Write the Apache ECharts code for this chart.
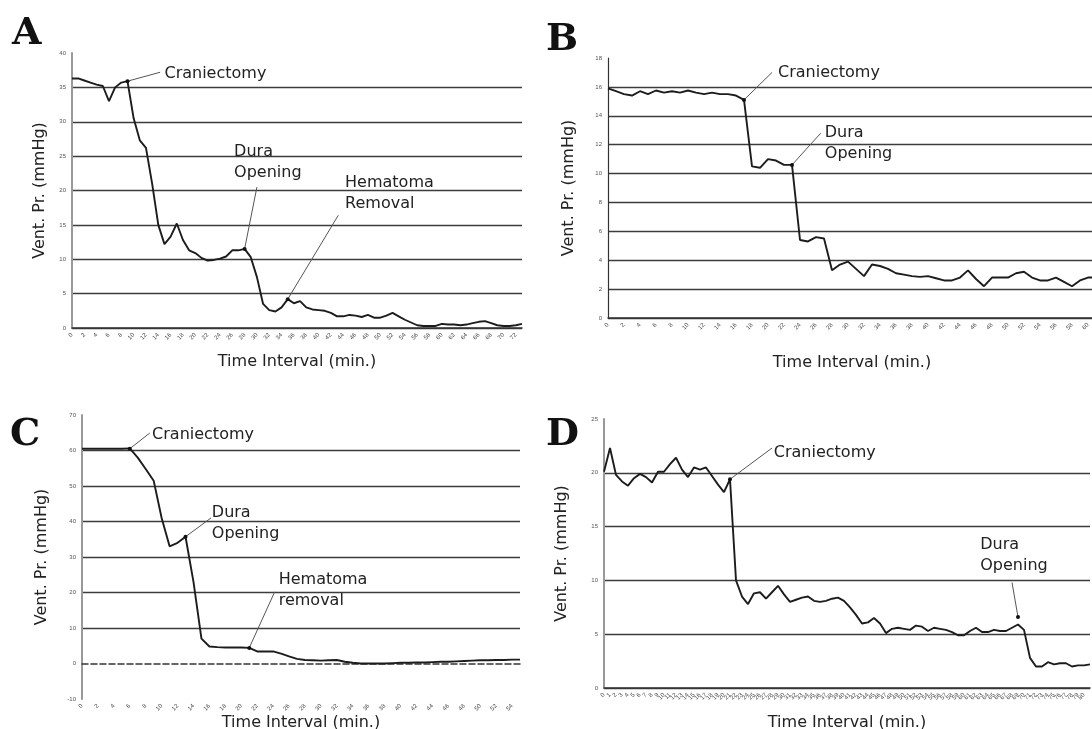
<!DOCTYPE html>
<html>
<head>
<meta charset="utf-8">
<title>Vent. Pr.</title>
<script src="https://cdn.jsdelivr.net/npm/echarts@6/dist/echarts.min.js"></script>
<style>
html, body { margin: 0; padding: 0; background: #fff; }
#main { width: 1092px; height: 729px; }
</style>
</head>
<body>
<div id="main"></div>
<script>
// ventricular pressure readings, one value per time interval
var valsA = [36.3, 36.3, 36.0, 35.7, 35.4, 35.2, 33.0, 35.0, 35.7, 35.9,
   30.5, 27.3, 26.2, 21.0, 15.0, 12.2, 13.3, 15.2, 12.8, 11.3,
   10.9, 10.2, 9.8, 9.9, 10.1, 10.4, 11.3, 11.3, 11.5, 10.3,
   7.4, 3.5, 2.6, 2.4, 3.0, 4.2, 3.6, 3.9, 3.0, 2.7,
   2.6, 2.5, 2.2, 1.7, 1.7, 1.9, 1.8, 1.6, 1.9, 1.5,
   1.5, 1.8, 2.2, 1.7, 1.2, 0.8, 0.4, 0.3, 0.3, 0.3,
   0.6, 0.5, 0.5, 0.4, 0.5, 0.7, 0.9, 1.0, 0.7, 0.4,
   0.3, 0.3, 0.4, 0.6];
var valsB = [15.9, 15.7, 15.5, 15.4, 15.7, 15.5, 15.75, 15.6, 15.7, 15.6,
   15.75, 15.6, 15.5, 15.6, 15.5, 15.5, 15.4, 15.1, 10.5, 10.4,
   11.0, 10.9, 10.6, 10.6, 5.4, 5.3, 5.6, 5.5, 3.3, 3.7,
   3.9, 3.4, 2.9, 3.7, 3.6, 3.4, 3.1, 3.0, 2.9, 2.85,
   2.9, 2.75, 2.6, 2.6, 2.8, 3.3, 2.7, 2.2, 2.8, 2.8,
   2.8, 3.1, 3.2, 2.8, 2.6, 2.6, 2.8, 2.5, 2.2, 2.6,
   2.8, 2.8];
var valsC = [60.5, 60.5, 60.5, 60.5, 60.5, 60.5, 60.6, 58, 54.8, 51.5,
   41, 33, 34, 35.7, 23, 7, 4.8, 4.6, 4.5, 4.5,
   4.5, 4.4, 3.4, 3.4, 3.4, 2.8, 2.0, 1.3, 1.0, 0.9,
   0.8, 0.9, 1.0, 0.5, 0.2, 0, 0, 0, 0, 0.1,
   0.2, 0.2, 0.3, 0.3, 0.4, 0.5, 0.5, 0.6, 0.7, 0.8,
   0.9, 0.9, 1.0, 1.0, 1.1, 1.1];
var valsD = [20.1, 22.3, 19.8, 19.2, 18.8, 19.5, 19.9, 19.6, 19.1, 20.1,
   20.1, 20.8, 21.4, 20.3, 19.6, 20.5, 20.3, 20.5, 19.7, 18.9,
   18.2, 19.4, 10.0, 8.5, 7.8, 8.8, 8.9, 8.3, 8.9, 9.5,
   8.7, 8.0, 8.2, 8.4, 8.5, 8.1, 8.0, 8.1, 8.3, 8.4,
   8.1, 7.5, 6.8, 6.0, 6.1, 6.5, 6.0, 5.1, 5.5, 5.6,
   5.5, 5.4, 5.8, 5.7, 5.3, 5.6, 5.5, 5.4, 5.2, 4.9,
   4.9, 5.3, 5.6, 5.2, 5.2, 5.4, 5.3, 5.3, 5.6, 5.9,
   5.4, 2.8, 2.0, 2.0, 2.4, 2.2, 2.3, 2.3, 2.0, 2.1,
   2.1, 2.2];

// y axis [min, max, step]
var yScaleA = [0, 40, 5];
var yScaleB = [0, 18, 2];
var yScaleC = [-10, 70, 10];
var yScaleD = [0, 25, 5];

var letters = ['A', 'B', 'C', 'D'];

// events: point on the curve, end of the pointer, where the words sit (time index, mmHg)
var notesA = [
   { text: 'Craniectomy', at: [9, 35.9], end: [14.3, 37.2], pos: [15, 37.0] },
   { text: 'Dura\nOpening', at: [28, 11.5], end: [30, 20.5], pos: [26.3, 24.1] },
   { text: 'Hematoma\nRemoval', at: [35, 4.2], end: [43.2, 16.4], pos: [44.3, 19.6] }
];
var notesB = [
   { text: 'Craniectomy', at: [17, 15.1], end: [20.5, 17.0], pos: [21.25, 17.0] },
   { text: 'Dura\nOpening', at: [23, 10.6], end: [26.6, 12.8], pos: [27.1, 12.1] }
];
var notesC = [
   { text: 'Craniectomy', at: [6, 60.5], end: [8.5, 64.9], pos: [8.8, 64.3] },
   { text: 'Dura\nOpening', at: [13, 35.7], end: [16.2, 41], pos: [16.3, 39.6] },
   { text: 'Hematoma\nremoval', at: [21, 4.4], end: [24.2, 20.2], pos: [24.7, 20.5] }
];
var notesD = [
   { text: 'Craniectomy', at: [21, 19.4], end: [28, 22.3], pos: [28.3, 21.9] },
   { text: 'Dura\nOpening', at: [69, 6.6], end: [68, 9.8], pos: [62.7, 12.3] }
];

var panels = [
   { vals: valsA, y: yScaleA, notes: notesA, grid: { left: 72, top: 53, width: 450, height: 275 }, yGap: 24, xGap: 26, step: 2 },
   { vals: valsB, y: yScaleB, notes: notesB, grid: { left: 608, top: 58, width: 488, height: 260 }, yGap: 31, xGap: 37, step: 2 },
   { vals: valsC, y: yScaleC, notes: notesC, grid: { left: 82, top: 415, width: 438, height: 284 }, yGap: 32, xGap: 12, step: 2 },
   { vals: valsD, y: yScaleD, notes: notesD, grid: { left: 604, top: 419, width: 486, height: 269 }, yGap: 34, xGap: 27, step: 1 }
];
var letterPos = [[12, 15], [546, 21], [10, 416], [546, 416]];

var sans = '"DejaVu Sans", Verdana, sans-serif';
var ink = '#1c1c1c';

var myChart = echarts.init(document.getElementById('main'));

var option = { animation: false, title: [], grid: [], xAxis: [], yAxis: [], series: [] };

panels.forEach(function (p, k) {
   var n = p.vals.length;
   var isC = (k == 2);
   option.title.push({
      text: letters[k], left: letterPos[k][0], top: letterPos[k][1], padding: 0,
      textStyle: { fontFamily: '"DejaVu Serif", "Liberation Serif", serif', fontWeight: 'bold', fontSize: 38, color: '#111' }
   });
   // keep the plot box where it is, names may run to the page edge
   p.grid.outerBoundsMode = 'none';
   option.grid.push(p.grid);
   option.xAxis.push({
      type: 'value', gridIndex: k, min: 0, max: n - 1, interval: p.step,
      name: 'Time Interval (min.)', nameLocation: 'middle', nameGap: p.xGap,
      nameTextStyle: { fontFamily: sans, fontSize: 16, color: '#222' },
      axisLine: { onZero: isC, lineStyle: { color: '#333', width: 1.5, type: isC ? 'dashed' : 'solid' } },
      axisTick: { show: false },
      splitLine: { show: false },
      axisLabel: { fontSize: 6, rotate: 45, color: '#444', margin: 6, showMaxLabel: false }
   });
   //C: no solid line under the dashed zero axis
   var gridColor = isC ? ['rgba(0,0,0,0)', '#3c3c3c', '#3c3c3c', '#3c3c3c', '#3c3c3c', '#3c3c3c', '#3c3c3c'] : '#3c3c3c';
   option.yAxis.push({
      type: 'value', gridIndex: k, min: p.y[0], max: p.y[1], interval: p.y[2],
      name: 'Vent. Pr. (mmHg)', nameLocation: 'middle', nameGap: p.yGap,
      nameTextStyle: { fontFamily: sans, fontSize: 16, color: '#222' },
      axisLine: { show: true, lineStyle: { color: k == 1 ? '#333' : '#999', width: k == 1 ? 1.2 : 2 } },
      axisTick: { show: false },
      axisLabel: { fontSize: 6, color: '#555', margin: 6 },
      splitLine: {
         show: true, showMaxLine: false, showMinLine: !isC,
         lineStyle: { color: gridColor, width: 1.4 }
      }
   });

   var dots = p.notes.map(function (a) {
      return { coord: a.at, symbol: 'circle', symbolSize: 4, itemStyle: { color: '#111' }, label: { show: false } };
   });
   var words = p.notes.map(function (a) {
      return {
         coord: a.pos, symbol: 'circle', symbolSize: 0,
         label: { show: true, position: 'right', distance: 0, formatter: a.text, color: '#222', fontFamily: sans, fontSize: 16, lineHeight: 21, align: 'left' }
      };
   });

   option.series.push({
      type: 'line', xAxisIndex: k, yAxisIndex: k,
      data: p.vals.map(function (v, i) { return [i, v]; }),
      symbol: 'none', silent: true,
      lineStyle: { color: ink, width: 1.9 },
      markLine: {
         silent: true, symbol: ['none', 'none'], label: { show: false },
         lineStyle: { color: '#555', width: 1, type: 'solid' },
         data: p.notes.map(function (a) { return [{ coord: a.at }, { coord: a.end }]; })
      },
      markPoint: { silent: true, data: dots.concat(words) }
   });
});

myChart.setOption(option);
</script>
</body>
</html>
